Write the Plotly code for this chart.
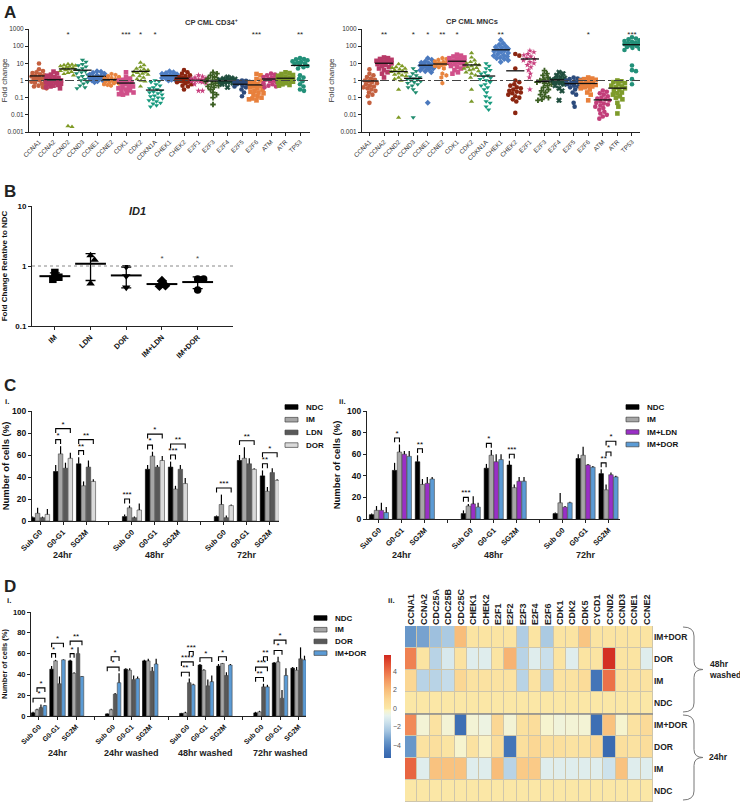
import numpy as np
import plotly.graph_objects as go

W, H = 740, 802
FONT = "Liberation Sans, Arial, sans-serif"

# ---------------- DATA ----------------
genes = ["CCNA1", "CCNA2", "CCND2", "CCND3", "CCNE1", "CCNE2", "CDK1", "CDK2", "CDKN1A", "CHEK1",
         "CHEK2", "E2F1", "E2F3", "E2F4", "E2F5", "E2F6", "ATM", "ATR", "TP53"]

cd34_values = [
    [9.7, 4.5, 3.6, 3.0, 2.7, 2.3, 2.0, 1.8, 1.7, 1.5, 1.4, 1.3, 1.2, 1.1, 1.0, 0.95, 0.85, 0.75, 0.65, 0.55, 0.5, 0.45, 0.4, 0.35],
    [3.3, 2.6, 2.2, 1.9, 1.6, 1.4, 1.3, 1.2, 1.1, 1.0, 0.95, 0.9, 0.85, 0.8, 0.75, 0.7, 0.65, 0.6, 0.55, 0.5, 0.45, 0.4, 0.35],
    [9.0, 8.5, 8.0, 7.5, 7.0, 6.5, 6.0, 5.5, 5.0, 4.5, 4.2, 4.0, 3.6, 3.2, 2.8, 2.4, 2.0, 0.002, 0.0022],
    [16, 12, 9.0, 7.5, 6.5, 5.0, 4.2, 3.5, 3.0, 2.6, 2.2, 1.8, 1.5, 1.2, 1.0, 0.8, 0.65, 0.5, 0.4, 0.35],
    [3.5, 3.2, 2.8, 2.5, 2.2, 2.0, 1.8, 1.6, 1.5, 1.4, 1.3, 1.2, 1.1, 1.0, 0.9, 0.85, 0.8],
    [2.4, 2.1, 1.8, 1.6, 1.4, 1.3, 1.2, 1.1, 1.0, 0.95, 0.9, 0.85, 0.8, 0.7, 0.65, 0.6, 0.55, 0.5],
    [3.0, 1.6, 1.3, 1.1, 1.0, 0.9, 0.8, 0.7, 0.6, 0.5, 0.45, 0.4, 0.35, 0.3, 0.27, 0.24, 0.2, 0.18, 0.16, 0.15],
    [11, 8.0, 6.0, 5.0, 4.5, 4.0, 3.5, 3.2, 3.0, 2.8, 2.5, 2.2, 2.0, 1.8, 1.5, 1.2, 1.0, 0.9, 0.45],
    [1.0, 0.9, 0.8, 0.6, 0.5, 0.4, 0.35, 0.3, 0.25, 0.22, 0.2, 0.18, 0.15, 0.13, 0.12, 0.1, 0.09, 0.08, 0.07, 0.06, 0.05, 0.045, 0.035, 0.03],
    [3.5, 3.0, 2.7, 2.5, 2.3, 2.1, 2.0, 1.9, 1.8, 1.7, 1.6, 1.5, 1.4, 1.3, 1.2, 1.1, 1.0],
    [4.0, 3.0, 2.5, 2.0, 1.8, 1.6, 1.4, 1.3, 1.2, 1.1, 1.0, 0.95, 0.9, 0.85, 0.8, 0.7, 0.6, 0.5, 0.45, 0.3],
    [2.0, 1.7, 1.5, 1.35, 1.25, 1.15, 1.1, 1.05, 1.0, 0.95, 0.9, 0.85, 0.8, 0.7, 0.6, 0.25, 0.25],
    [3.0, 2.5, 2.0, 1.6, 1.3, 1.1, 1.0, 0.9, 0.8, 0.7, 0.6, 0.5, 0.45, 0.4, 0.3, 0.2, 0.15, 0.1, 0.04],
    [1.6, 1.4, 1.3, 1.2, 1.1, 1.05, 1.0, 0.97, 0.93, 0.9, 0.87, 0.85, 0.8, 0.75, 0.7, 0.6, 0.4],
    [1.0, 0.95, 0.9, 0.85, 0.8, 0.75, 0.7, 0.65, 0.6, 0.55, 0.5, 0.45, 0.4, 0.3, 0.2, 0.12],
    [2.4, 2.0, 1.2, 1.0, 0.8, 0.7, 0.6, 0.5, 0.45, 0.4, 0.35, 0.3, 0.25, 0.22, 0.2, 0.18, 0.15, 0.12, 0.1, 0.09, 0.08, 0.07],
    [2.5, 2.2, 2.0, 1.8, 1.6, 1.5, 1.4, 1.3, 1.2, 1.1, 1.0, 0.9, 0.8, 0.7, 0.6, 0.5, 0.45, 0.4],
    [3.0, 2.7, 2.4, 2.1, 1.9, 1.7, 1.5, 1.4, 1.3, 1.2, 1.1, 1.0, 0.95, 0.9, 0.85, 0.8, 0.7, 0.6, 0.55, 0.5],
    [20, 18, 17, 15, 13, 12, 11, 10, 9.0, 8.0, 7.0, 6.0, 5.0, 2.0, 1.5, 1.2, 0.9, 0.6, 0.45, 0.3, 0.25],
]

mnc_values = [
    [4.5, 2.5, 2.0, 1.6, 1.3, 1.1, 1.0, 0.9, 0.8, 0.7, 0.6, 0.5, 0.45, 0.4, 0.35, 0.3, 0.25, 0.2, 0.15, 0.12, 0.05],
    [22, 20, 18, 16, 14, 13, 12, 11, 10, 9.0, 8.0, 7.0, 6.0, 5.0, 4.0, 3.0, 2.5, 1.5],
    [9.0, 7.0, 6.0, 5.5, 5.0, 4.5, 4.0, 3.5, 3.2, 3.0, 2.6, 2.2, 2.0, 1.8, 1.5, 1.2, 1.0, 0.3, 0.007],
    [5.0, 3.5, 2.6, 2.0, 1.7, 1.5, 1.3, 1.2, 1.1, 1.0, 0.9, 0.8, 0.7, 0.6, 0.5, 0.4, 0.3, 0.2, 0.007],
    [20, 16, 13, 11, 10, 9.0, 8.0, 7.5, 7.0, 6.5, 6.0, 5.5, 5.0, 4.5, 4.0, 3.5, 3.0, 0.05],
    [20, 18, 16, 14, 13, 12, 11, 10, 9.5, 9.0, 8.5, 8.0, 7.0, 6.0, 5.0, 2.5, 2.0, 1.5, 0.7],
    [32, 28, 25, 22, 20, 18, 16, 14, 13, 12, 11, 10, 9.0, 8.0, 7.0, 6.0, 5.0, 4.0, 3.0, 2.5],
    [40, 22, 15, 12, 10, 9.0, 8.0, 7.0, 6.0, 5.5, 5.0, 4.5, 4.0, 3.5, 3.0, 2.5, 2.0, 1.5, 0.3, 0.06],
    [10, 7.0, 5.0, 4.0, 3.0, 2.5, 2.0, 1.6, 1.4, 1.2, 1.0, 0.8, 0.6, 0.5, 0.4, 0.3, 0.2, 0.12, 0.1, 0.06, 0.05, 0.03, 0.02],
    [230, 150, 120, 100, 90, 80, 70, 60, 55, 50, 45, 40, 35, 30, 28, 25, 22, 20, 18, 15, 12],
    [35, 28, 5.0, 1.0, 0.8, 0.6, 0.5, 0.4, 0.35, 0.3, 0.25, 0.22, 0.2, 0.18, 0.15, 0.12, 0.1, 0.08, 0.06, 0.013],
    [55, 45, 35, 30, 25, 20, 18, 15, 12, 10, 8.0, 6.0, 4.0, 2.5, 1.5, 0.3],
    [3.8, 2.5, 2.0, 1.5, 1.2, 1.0, 0.9, 0.8, 0.7, 0.6, 0.5, 0.4, 0.3, 0.25, 0.2, 0.15, 0.12, 0.1, 0.08, 0.07],
    [3.0, 2.5, 2.0, 1.6, 1.4, 1.2, 1.1, 1.0, 0.95, 0.9, 0.85, 0.8, 0.7, 0.6, 0.5, 0.35, 0.25, 0.07],
    [1.5, 1.3, 1.2, 1.1, 1.0, 0.9, 0.8, 0.7, 0.6, 0.5, 0.45, 0.4, 0.3, 0.2, 0.15, 0.05, 0.03],
    [1.5, 1.3, 1.2, 1.1, 1.0, 0.9, 0.8, 0.7, 0.6, 0.55, 0.5, 0.45, 0.4, 0.35, 0.3, 0.2, 0.15, 0.07],
    [0.26, 0.22, 0.18, 0.15, 0.12, 0.1, 0.09, 0.08, 0.07, 0.06, 0.05, 0.045, 0.04, 0.035, 0.03, 0.025, 0.02, 0.015, 0.012, 0.01, 0.008, 0.006],
    [1.0, 0.9, 0.8, 0.7, 0.6, 0.5, 0.45, 0.4, 0.35, 0.3, 0.25, 0.2, 0.18, 0.15, 0.12, 0.1, 0.08, 0.05, 0.03, 0.012],
    [330, 280, 250, 220, 200, 180, 160, 150, 140, 130, 120, 110, 100, 90, 80, 70, 60, 7.5, 4.0, 3.5, 1.2, 0.6],
]

cd34_stars = ["", "", "*", "", "", "", "***", "*", "*", "", "", "", "", "", "", "***", "", "", "**"]
mnc_stars = ["", "**", "", "*", "*", "**", "*", "", "", "**", "", "", "", "", "", "*", "", "", "***"]

id1_groups = ["IM", "LDN", "DOR", "IM+LDN", "IM+DOR"]
id1_values = [[0.78, 0.60, 0.65], [1.50, 1.26, 0.51], [0.97, 0.68, 0.44], [0.57, 0.46, 0.47], [0.61, 0.61, 0.40]]
id1_stars = ["", "", "", "*", "*"]

phases = ["Sub G0", "G0-G1", "SG2M"]
c_times = ["24hr", "48hr", "72hr"]
ci_treat = ["NDC", "IM", "LDN", "DOR"]
ci_means = [[3, 45, 52, 4, 47, 49, 4, 55, 41],
            [7, 61, 32, 12, 59, 29, 15, 57, 27],
            [3, 48, 49, 3, 49, 47, 3, 52, 44],
            [6, 57, 36, 10, 55, 34, 14, 47, 37]]
ci_errs = [[1, 6, 6, 2, 4, 5, 1, 5, 5],
           [5, 7, 4, 2, 4, 3, 9, 10, 4],
           [1, 5, 6, 1, 2, 4, 2, 5, 4],
           [5, 5, 2, 6, 4, 5, 1, 1, 1]]
ci_sig = [(1, 0, 1, "*"), (1, 0, 3, "*"), (2, 0, 1, "**"), (2, 0, 3, "**"), (3, 0, 1, "***"),
          (4, 0, 1, "*"), (4, 0, 3, "*"), (5, 0, 1, "***"), (5, 0, 3, "**"), (6, 0, 3, "***"),
          (7, 0, 3, "**"), (8, 0, 1, "**"), (8, 0, 3, "*")]

cii_treat = ["NDC", "IM", "IM+LDN", "IM+DOR"]
cii_means = [[4, 45, 53, 5, 47, 50, 5, 56, 42],
             [8, 62, 32, 12, 59, 29, 15, 59, 27],
             [8, 60, 33, 14, 53, 35, 11, 50, 41],
             [6, 58, 37, 11, 55, 35, 15, 48, 39]]
cii_errs = [[1, 7, 6, 3, 4, 4, 1, 4, 4],
            [4, 7, 5, 2, 5, 3, 9, 8, 5],
            [7, 3, 6, 7, 7, 4, 1, 1, 2],
            [5, 5, 2, 4, 5, 4, 1, 1, 1]]
cii_sig = [(1, 0, 1, "*"), (2, 0, 1, "**"), (3, 0, 1, "***"), (4, 0, 1, "*"), (5, 0, 1, "***"),
           (8, 0, 1, "**"), (8, 1, 2, "*"), (8, 1, 3, "*")]

d_times = ["24hr", "24hr washed", "48hr washed", "72hr washed"]
di_treat = ["NDC", "IM", "DOR", "IM+DOR"]
di_means = [[3, 45, 53, 2, 45, 53, 2.5, 49, 48, 3, 51, 46],
            [6, 53, 41, 6, 44, 53, 3, 44, 50.5, 4, 52, 44],
            [8, 31, 60, 21, 35, 43, 32, 29, 39, 28, 17, 55],
            [10, 54, 38, 32, 36, 50, 30, 33, 49, 28, 39, 54]]
di_errs = [[1, 3, 1, 0.5, 1, 1, 0.5, 1, 2, 1, 1, 1],
           [1, 1, 1, 1, 2, 2, 1, 1, 0.5, 1, 5, 3],
           [3, 7, 6, 1, 4, 4, 4, 6, 3, 3, 8, 11],
           [0.5, 0.5, 0.5, 9, 2, 5, 1, 6, 1, 2, 7, 4]]
di_sig = [(0, 0, 3, "*"), (0, 1, 3, "*"), (1, 0, 1, "*"), (1, 0, 3, "*"), (2, 0, 1, "*"), (2, 0, 3, "**"),
          (3, 0, 3, "*"), (3, 1, 3, "*"),
          (6, 0, 2, "**"), (6, 0, 3, "****"), (6, 2, 3, "***"), (7, 0, 3, "*"), (8, 0, 2, "*"),
          (9, 0, 2, "**"), (9, 0, 3, "***"), (9, 2, 3, "**"), (10, 0, 2, "*"), (10, 0, 3, "*")]

hm_genes = ["CCNA1", "CCNA2", "CDC25A", "CDC25B", "CDC25C", "CHEK1", "CHEK2", "E2F1", "E2F2", "E2F3",
            "E2F4", "E2F6", "CDK1", "CDK2", "CDK5", "CYCD1", "CCND2", "CCND3", "CCNE1", "CCNE2"]
hm_rows = ["IM+DOR", "DOR", "IM", "NDC", "IM+DOR", "DOR", "IM", "NDC"]
hm_w48_imdor = [-3.6, -3.3, -2.6, -2.3, 2.0, 0.2, 0.2, 0.2, 0.2, -2.2, 0.2, -2.3, 0.2, 0.2, 1.7, 0.2, 0.2, 0.2, 0.2, 0.2]
hm_w48_dor = [3.6, 0.2, -2.0, -1.2, 0.3, -1.0, -1.0, 0.2, 2.3, -2.0, -1.0, -1.6, 0.2, -1.0, 0.2, 0.2, 5.6, 0.2, 0.2, -1.0]
hm_w48_im = [1.0, -2.0, -2.0, -1.7, 1.0, 0.3, 0.3, 0.3, 0.3, -2.0, 0.3, -2.0, 0.3, 0.3, 0.7, -4.6, 4.0, 0.3, 0.3, 0.3]
hm_w48_ndc = [0.0, 0.0, 0.0, 0.0, 0.0, 0.0, 0.0, 0.0, 0.0, 0.0, 0.0, 0.0, 0.0, 0.0, 0.0, 0.0, 0.0, 0.0, 0.0, 0.0]
hm_24_imdor = [3.4, -0.4, 0.3, -0.4, -4.9, -0.4, -0.6, 1.0, -0.4, 0.4, 0.6, -0.3, -0.5, -0.4, -0.4, -4.9, 1.8, -0.3, 0.3, 0.8]
hm_24_dor = [-3.6, 0.3, 0.5, 0.2, -0.3, 0.3, -0.2, 0.6, -4.6, 0.5, 1.0, 0.5, 0.5, 0.3, 0.3, 0.8, -5.1, 0.5, 0.3, 0.6]
hm_24_im = [4.3, -1.0, 1.8, 1.8, 1.8, -1.0, -1.0, 2.0, -2.0, 1.5, 1.5, -1.0, -1.0, -1.0, -1.0, -1.0, -1.5, 1.8, -1.0, -1.0]
hm_24_ndc = [0.0, 0.0, 0.0, 0.0, 0.0, 0.0, 0.0, 0.0, 0.0, 0.0, 0.0, 0.0, 0.0, 0.0, 0.0, 0.0, 0.0, 0.0, 0.0, 0.0]

# ---------------- STYLE ----------------
gene_colors = ["#c4603f", "#b83a68", "#7f9a25", "#1f8c6e", "#4a78bd", "#e8843e", "#d0508a", "#7b9a2c",
               "#179a7e", "#4f7fc4", "#8b2510", "#c8407e", "#3b5e22", "#1e4d3d", "#2c4b7c", "#e8803c",
               "#c23e7a", "#7e9b2b", "#229079"]
gene_symbols = ["circle", "square", "triangle-up", "triangle-down", "diamond", "hexagon", "square",
                "triangle-up", "triangle-down", "diamond", "circle", "star", "cross", "x", "circle",
                "square", "circle", "square", "circle"]
id1_symbols = ["square", "triangle-up", "triangle-down", "diamond", "circle"]
ci_colors = ["#000000", "#a6a6a6", "#595959", "#dadada"]
cii_colors = ["#000000", "#a6a6a6", "#9a2fc6", "#5b9bd5"]
di_colors = ["#000000", "#a6a6a6", "#595959", "#5b9bd5"]


def fx(p):
    return p / W


def fy(p):
    return 1 - p / H


def swarm(vals, upx, dpx, d, maxoff):
    ys = np.log10(np.asarray(vals, float)) * dpx
    order = np.argsort(-ys, kind="stable")
    cands = [0.0]
    for k in range(1, 40):
        cands += [k * 0.5, -k * 0.5]
    px_, py_ = [], []
    offs = np.zeros(len(ys))
    for idx in order:
        y = ys[idx]
        best, bestd = 0.0, -1.0
        for c in cands:
            if abs(c) > maxoff:
                continue
            dm = min([np.hypot(c - a, y - b) for a, b in zip(px_, py_)] or [1e9])
            if dm >= d:
                best = c
                break
            if dm > bestd:
                bestd, best = dm, c
        px_.append(best)
        py_.append(y)
        offs[idx] = best / upx
    return offs


fig = go.Figure()
shapes = []
annotations = []


def axstyle(**kw):
    base = dict(showline=True, linecolor="#222", linewidth=1, ticks="outside", ticklen=3, tickwidth=1,
                tickcolor="#222", showgrid=False, zeroline=False, automargin=False)
    base.update(kw)
    return base


# ---------------- PANEL A ----------------
def panel_a(values, stars, xa, ya, upx):
    for i, g in enumerate(genes):
        v = values[i]
        offs = swarm(v, upx, 17.2, 3.9, 7.5)
        fig.add_trace(go.Scatter(x=i + offs, y=v, mode="markers", xaxis=xa, yaxis=ya, showlegend=False,
                                 marker=dict(symbol=gene_symbols[i], color=gene_colors[i], size=4.6,
                                             line=dict(width=0.6 if gene_symbols[i] == "x" else 0,
                                                       color=gene_colors[i]))))
        fig.add_trace(go.Scatter(x=[i], y=[float(np.mean(v))], mode="markers", xaxis=xa, yaxis=ya,
                                 showlegend=False,
                                 marker=dict(symbol="line-ew", size=13, line=dict(width=1.3, color="#111"))))
    sx = [i for i, s in enumerate(stars) if s]
    fig.add_trace(go.Scatter(x=sx, y=[420] * len(sx), text=[stars[i] for i in sx], mode="text",
                             xaxis=xa, yaxis=ya, showlegend=False,
                             textfont=dict(size=8, color="#222", family=FONT)))
    shapes.append(dict(type="line", xref=xa + " domain", x0=0, x1=1, yref=ya, y0=1, y1=1,
                       line=dict(color="#444", width=1, dash="dashdot")))


panel_a(cd34_values, cd34_stars, "x", "y", 14.5)
panel_a(mnc_values, mnc_stars, "x2", "y2", 14.58)

logticks = dict(type="log", range=[-3, 3], tickvals=[0.001, 0.01, 0.1, 1, 10, 100, 1000],
                ticktext=["0.001", "0.01", "0.1", "1", "10", "100", "1000"],
                tickfont=dict(size=6.5, color="#333", family=FONT))
gx = dict(tickvals=list(range(19)), ticktext=genes, tickangle=-45,
          tickfont=dict(size=6.3, color="#333", family=FONT))

# ---------------- PANEL B ----------------
for i, g in enumerate(id1_groups):
    v = id1_values[i]
    offs = swarm(v, 35.7, 60.0, 6.0, 9.0)
    fig.add_trace(go.Scatter(x=i + offs, y=v, mode="markers", xaxis="x3", yaxis="y3", showlegend=False,
                             marker=dict(symbol=id1_symbols[i], color="black", size=7.5)))
    fig.add_trace(go.Scatter(x=[i], y=[float(np.mean(v))], mode="markers", xaxis="x3", yaxis="y3",
                             showlegend=False,
                             error_y=dict(type="data", array=[float(np.std(v, ddof=1))], color="black",
                                          thickness=1.3, width=5),
                             marker=dict(symbol="line-ew", size=22, line=dict(width=2, color="black"))))
bx = [i for i, s in enumerate(id1_stars) if s]
fig.add_trace(go.Scatter(x=bx, y=[1.3] * len(bx), text=[id1_stars[i] for i in bx], mode="text",
                         xaxis="x3", yaxis="y3", showlegend=False,
                         textfont=dict(size=8, color="#444", family=FONT)))
shapes.append(dict(type="line", xref="x3 domain", x0=0, x1=1, yref="y3", y0=1, y1=1,
                   line=dict(color="#888", width=1, dash="dot")))


# ---------------- BAR PANELS ----------------
BARGAP, BGGAP = 0.15, 0.08


def bar_panel(means, errs, treat, colors, sig, nt, xa, ya, times, glabel_y, leg_x, leg_y, leg_dy):
    xs = [4 * t + p for t in range(nt) for p in range(3)]
    for k, name in enumerate(treat):
        fig.add_trace(go.Bar(x=xs, y=means[k], name=name, xaxis=xa, yaxis=ya, showlegend=False,
                             marker=dict(color=colors[k], line=dict(color="#444" if k else "#000", width=0.6)),
                             error_y=dict(type="data", symmetric=False, array=errs[k],
                                          arrayminus=[0] * len(xs), color="black", thickness=1.2, width=0)))
        # legend key (drawn manually for compact spacing)
        yc = leg_y + k * leg_dy
        shapes.append(dict(type="rect", xref="paper", yref="paper", x0=fx(leg_x), x1=fx(leg_x + 13),
                           y0=fy(yc + 2.3), y1=fy(yc - 2.3), fillcolor=colors[k],
                           line=dict(color="#444" if k else "#000", width=0.7)))
        annotations.append(dict(text=name, x=fx(leg_x + 19), y=fy(yc), xref="paper", yref="paper",
                                xanchor="left", yanchor="middle", showarrow=False,
                                font=dict(size=8, family=FONT, weight="bold", color="#111")))
    slot = (1 - BARGAP) / 4
    lx, ly, tx, ty, tt = [], [], [], [], []
    prev = {}
    for (ci, a, b, lab) in sig:
        xc = xs[ci]
        xa_ = xc - (1 - BARGAP) / 2 + slot * (a + 0.5)
        xb_ = xc - (1 - BARGAP) / 2 + slot * (b + 0.5)
        top = max(means[k][ci] + errs[k][ci] for k in range(a, b + 1)) + 6
        if ci in prev:
            top = max(top, prev[ci] + 10)
        prev[ci] = top
        lx += [xa_, xa_, xb_, xb_, None]
        ly += [top - 4, top, top, top - 4, None]
        tx.append((xa_ + xb_) / 2)
        ty.append(top)
        tt.append(lab)
    fig.add_trace(go.Scatter(x=lx, y=ly, mode="lines", line=dict(color="black", width=1.1),
                             xaxis=xa, yaxis=ya, showlegend=False, hoverinfo="skip"))
    fig.add_trace(go.Scatter(x=tx, y=ty, text=tt, mode="text", textposition="top center",
                             textfont=dict(size=8, color="black", family=FONT),
                             xaxis=xa, yaxis=ya, showlegend=False))
    for t, lab in enumerate(times):
        annotations.append(dict(text=lab, xref=xa, x=4 * t + 1, yref="paper", y=fy(glabel_y),
                                yanchor="middle", showarrow=False,
                                font=dict(size=9, family=FONT, weight="bold")))
    tv = xs
    tt2 = [phases[v % 4] for v in xs]
    gaps = [4 * t + 3 for t in range(nt - 1)]
    return tv, tt2, gaps


ci_tv, ci_tt, ci_gaps = bar_panel(ci_means, ci_errs, ci_treat, ci_colors, ci_sig, 3, "x4", "y4", c_times, 555,
                                  285, 407, 12.7)
cii_tv, cii_tt, cii_gaps = bar_panel(cii_means, cii_errs, cii_treat, cii_colors, cii_sig, 3, "x5", "y5", c_times,
                                     555, 626, 407, 12.5)
di_tv, di_tt, di_gaps = bar_panel(di_means, di_errs, di_treat, di_colors, di_sig, 4, "x6", "y6", d_times, 753,
                                  314, 618, 11.7)

# ---------------- HEATMAP ----------------
z = [hm_w48_imdor, hm_w48_dor, hm_w48_im, hm_w48_ndc, hm_24_imdor, hm_24_dor, hm_24_im, hm_24_ndc]
ZMIN, ZMAX = -5.4, 5.8
cs_pts = [(-5.4, "#3565ad"), (-4.5, "#4677b9"), (-3.5, "#6c9acb"), (-2.5, "#a3c4e0"), (-1.5, "#cde2ec"),
          (-0.8, "#e6f2ee"), (-0.25, "#f8f4cc"), (0.0, "#fbe7a6"), (1.0, "#fbd794"), (2.0, "#f8bd7a"),
          (3.0, "#f49a62"), (4.0, "#ec7148"), (5.0, "#df4a30"), (5.8, "#d0271f")]
colorscale = [[(v - ZMIN) / (ZMAX - ZMIN), c] for v, c in cs_pts]
fig.add_trace(go.Heatmap(z=z, x=list(range(20)), y=list(range(8)), xaxis="x7", yaxis="y7",
                         colorscale=colorscale, zmin=ZMIN, zmax=ZMAX, xgap=1, ygap=1,
                         colorbar=dict(x=fx(384), xanchor="left", y=fy(655), yanchor="top",
                                       len=103 / H, lenmode="fraction", thickness=7, outlinewidth=0,
                                       xpad=0, ypad=0, tickvals=[-4, -2, 0, 2, 4], ticks="",
                                       tickfont=dict(size=7, color="#555", family=FONT))))
shapes.append(dict(type="rect", xref="x7 domain", yref="y7 domain", x0=0, x1=1, y0=0, y1=1,
                   fillcolor="#cfc6ab", line=dict(width=0), layer="below"))
shapes.append(dict(type="line", xref="x7 domain", x0=0, x1=1, yref="y7", y0=3.5, y1=3.5,
                   line=dict(color="#8a8a8a", width=1.6)))


def brace(x0, xt, ytop, ybot):
    xm = x0 + (xt - x0) * 0.55
    ym = (ytop + ybot) / 2
    pts = [("M", [(x0, ytop)]), ("Q", [(xm, ytop), (xm, ytop + 9)]), ("L", [(xm, ym - 8)]),
           ("Q", [(xm, ym), (xt, ym)]), ("Q", [(xm, ym), (xm, ym + 8)]), ("L", [(xm, ybot - 9)]),
           ("Q", [(xm, ybot), (x0, ybot)])]
    s = ""
    for cmd, pp in pts:
        s += cmd + " " + " ".join(f"{fx(a):.5f},{fy(b):.5f}" for a, b in pp) + " "
    return dict(type="path", xref="paper", yref="paper", path=s.strip(), line=dict(color="#777", width=1))


shapes.append(brace(683, 703, 627, 712))
shapes.append(brace(683, 703, 715, 800))
annotations.append(dict(text="48hr<br>washed", x=fx(707), y=fy(669), xref="paper", yref="paper",
                        xanchor="left", yanchor="middle", align="left", showarrow=False,
                        font=dict(size=8.5, family=FONT, weight="bold", color="#222")))
annotations.append(dict(text="24hr", x=fx(707), y=fy(757), xref="paper", yref="paper",
                        xanchor="left", yanchor="middle", showarrow=False,
                        font=dict(size=8.5, family=FONT, weight="bold", color="#222")))

# ---------------- TEXT ----------------
for lab, x, y in [("A", 2, 1), ("B", 2, 180), ("C", 2, 374), ("D", 2, 575)]:
    annotations.append(dict(text=lab, x=fx(x), y=fy(y), xref="paper", yref="paper", xanchor="left",
                            yanchor="top", showarrow=False, font=dict(size=17, family=FONT, weight="bold")))
for lab, x, y in [("i.", 3, 395), ("ii.", 337, 395), ("i.", 5, 594), ("ii.", 386, 594)]:
    annotations.append(dict(text=lab, x=fx(x), y=fy(y), xref="paper", yref="paper", xanchor="left",
                            yanchor="top", showarrow=False, font=dict(size=8, family=FONT, weight="bold")))
annotations.append(dict(text="CP CML CD34<sup>+</sup>", x=fx(183), y=fy(15), xref="paper", yref="paper",
                        showarrow=False, font=dict(size=7.5, family=FONT, weight="bold", color="#333")))
annotations.append(dict(text="CP CML MNCs", x=fx(500), y=fy(15), xref="paper", yref="paper",
                        showarrow=False, font=dict(size=7.5, family=FONT, weight="bold", color="#333")))
annotations.append(dict(text="<i>ID1</i>", x=fx(127), y=fy(203), xref="paper", yref="paper",
                        showarrow=False, font=dict(size=11, family=FONT, weight="bold")))

bold = lambda s: dict(size=s, family=FONT, weight="bold", color="#111")
minor_ticks = lambda vals: dict(tickvals=vals, ticks="outside", ticklen=3, tickwidth=1, tickcolor="#222",
                                showgrid=False)

fig.update_layout(
    width=W, height=H, margin=dict(l=0, r=0, t=0, b=0, autoexpand=False), paper_bgcolor="white",
    plot_bgcolor="white",
    font=dict(family=FONT, color="#222"), barmode="group", bargap=BARGAP, bargroupgap=BGGAP,
    showlegend=False,
    xaxis=axstyle(domain=[fx(29), fx(310)], anchor="y", range=[-0.69, 18.69], **gx),
    yaxis=axstyle(domain=[fy(132), fy(29)], anchor="x", title=dict(text="Fold change", standoff=4,
                  font=dict(size=8, color="#333", family=FONT)), **logticks),
    xaxis2=axstyle(domain=[fx(362), fx(640)], anchor="y2", range=[-0.51, 18.55], **gx),
    yaxis2=axstyle(domain=[fy(132), fy(29)], anchor="x2", title=dict(text="Fold change", standoff=4,
                   font=dict(size=8, color="#333", family=FONT)), **logticks),
    xaxis3=axstyle(domain=[fx(32), fx(233)], anchor="y3", range=[-0.64, 4.99], tickvals=list(range(5)),
                   ticktext=id1_groups, tickangle=-45, tickfont=bold(7.5)),
    yaxis3=axstyle(domain=[fy(326), fy(206)], anchor="x3", type="log", range=[-1, 1],
                   tickvals=[0.1, 1, 10], ticktext=["0.1", "1", "10"], tickfont=bold(8),
                   title=dict(text="Fold Change Relative to NDC", font=bold(8), standoff=6)),
    xaxis4=axstyle(domain=[fx(32), fx(279)], anchor="y4", range=[-0.35, 10.4], tickvals=ci_tv,
                   ticktext=ci_tt, tickangle=-45, tickfont=bold(7.5), minor=minor_ticks(ci_gaps)),
    yaxis4=axstyle(domain=[fy(521), fy(411)], anchor="x4", range=[0, 100], tickvals=[0, 20, 40, 60, 80, 100],
                   tickfont=bold(8.5), title=dict(text="Number of cells (%)", font=bold(9.5), standoff=4)),
    xaxis5=axstyle(domain=[fx(367), fx(620)], anchor="y5", range=[-0.52, 10.5], tickvals=cii_tv,
                   ticktext=cii_tt, tickangle=-45, tickfont=bold(7.5), minor=minor_ticks(cii_gaps)),
    yaxis5=axstyle(domain=[fy(519), fy(411)], anchor="x5", range=[0, 100], tickvals=[0, 20, 40, 60, 80, 100],
                   tickfont=bold(8.5), title=dict(text="Number of cells (%)", font=bold(9.5), standoff=4)),
    xaxis6=axstyle(domain=[fx(31), fx(306)], anchor="y6", range=[-0.43, 14.4], tickvals=di_tv,
                   ticktext=di_tt, tickangle=-45, tickfont=bold(7), minor=minor_ticks(di_gaps)),
    yaxis6=axstyle(domain=[fy(716), fy(612)], anchor="x6", range=[0, 100], tickvals=[0, 20, 40, 60, 80, 100],
                   tickfont=bold(7.5), title=dict(text="Number of cells (%)", font=bold(7.5), standoff=4)),
    xaxis7=dict(domain=[fx(405), fx(653)], anchor="y7", range=[-0.5, 19.5], side="top", tickvals=list(range(20)),
                ticktext=hm_genes, tickangle=-90, ticks="", showline=False, showgrid=False, zeroline=False,
                automargin=False, tickfont=dict(size=9, family=FONT, weight="bold", color="#222")),
    yaxis7=dict(domain=[fy(802), fy(626)], anchor="x7", range=[7.5, -0.5], side="right", tickvals=list(range(8)),
                ticktext=hm_rows, ticks="", showline=False, showgrid=False, zeroline=False,
                automargin=False, tickfont=dict(size=8.5, family=FONT, weight="bold", color="#222")),
    shapes=shapes, annotations=annotations,
)

fig.write_html("out.html", config={"displayModeBar": False},
               post_script="document.body.style.margin='0';document.body.style.padding='0';")
